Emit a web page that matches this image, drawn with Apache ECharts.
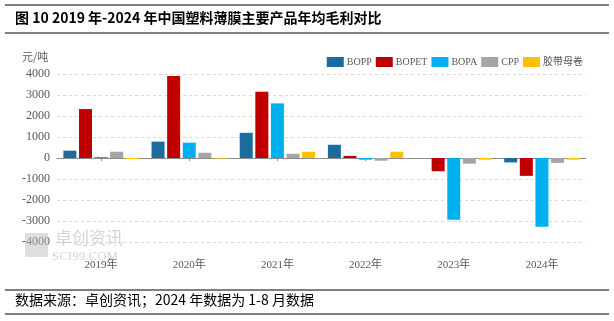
<!DOCTYPE html>
<html>
<head>
<meta charset="utf-8">
<script src="https://cdn.jsdelivr.net/npm/echarts@6/dist/echarts.min.js"></script>
<style>
html,body{margin:0;padding:0;background:#fff;}
#c{width:614px;height:321px;}
</style>
</head>
<body>
<div id="c"></div>
<script>
var categories = ['2019年','2020年','2021年','2022年','2023年','2024年'];
var seriesNames = ['BOPP','BOPET','BOPA','CPP','胶带母卷'];
var bopp   = [350, 780, 1200, 630, 0, -210];
var bopet  = [2330, 3900, 3150, 100, -630, -850];
var bopa   = [50, 730, 2600, -80, -2940, -3270];
var cpp    = [300, 250, 200, -130, -270, -230];
var tape   = [-50, -30, 300, 300, -80, -80];
var colors = ['#1D6A9E', '#C00000', '#00B0F0', '#A5A5A5', '#FFC000'];
var titleText = '图 10 2019 年-2024 年中国塑料薄膜主要产品年均毛利对比';
var sourceText = '数据来源：卓创资讯；2024 年数据为 1-8 月数据';
var unitText = '元/吨';

var chart = echarts.init(document.getElementById('c'), null, {renderer: 'canvas'});
var dataSets = [bopp, bopet, bopa, cpp, tape];
var serif = "'Liberation Serif', 'Noto Sans CJK SC', serif";

var series = seriesNames.map(function (n, i) {
  return {
    name: n,
    type: 'bar',
    xAxisIndex: 0,
    data: dataSets[i],
    barWidth: 13,
    barGap: '20%',
    itemStyle: {color: colors[i]},
    z: 3
  };
});

chart.setOption({
  animation: false,
  backgroundColor: '#fff',
  color: colors,
  grid: {left: 57, right: 28, top: 74, bottom: 79},
  legend: {
    right: 26, top: 52,
    itemWidth: 17, itemHeight: 10, itemGap: 4,
    icon: 'rect',
    textStyle: {fontFamily: serif, fontSize: 10, color: '#595959', padding: [0, 0, 0, -2]},
    data: seriesNames
  },
  xAxis: [{
    type: 'category',
    data: categories,
    position: 'bottom',
    axisLine: {show: false, onZero: false},
    axisTick: {show: false},
    axisLabel: {fontFamily: serif, fontSize: 11, color: '#595959', margin: 18}
  }, {
    type: 'category',
    data: categories,
    position: 'bottom',
    axisLine: {show: true, onZero: true, lineStyle: {color: '#8c8c8c', width: 1}},
    axisTick: {show: true, alignWithLabel: true, length: 3, lineStyle: {color: '#8c8c8c'}},
    axisLabel: {show: false}
  }],
  yAxis: {
    type: 'value',
    min: -4000, max: 4000, interval: 1000,
    axisLine: {show: false},
    axisTick: {show: false},
    axisLabel: {fontFamily: serif, fontSize: 12, color: '#595959', margin: 7,
      formatter: function (v) { return String(v); }},
    splitLine: {lineStyle: {type: [3, 3], color: '#d9d9d9'}}
  },
  graphic: [
    {type: 'line', shape: {x1: 5, y1: 5, x2: 609, y2: 5}, style: {stroke: '#000', lineWidth: 1}},
    {type: 'line', shape: {x1: 5, y1: 33, x2: 609, y2: 33}, style: {stroke: '#000', lineWidth: 1}},
    {type: 'text', left: 15, top: 11, style: {text: titleText, font: "bold 14px 'Noto Sans CJK SC', sans-serif", fill: '#000'}},
    {type: 'text', left: 22, top: 51, style: {text: unitText, font: "11px 'Noto Sans CJK SC', sans-serif", fill: '#595959'}},
    {type: 'rect', shape: {x: 25, y: 233, width: 23, height: 24}, style: {fill: 'rgba(190,190,190,0.5)'}, z: 1},
    {type: 'text', left: 55, top: 229, style: {text: '卓创资讯', font: "17px 'Noto Sans CJK SC', sans-serif", fill: 'rgba(190,190,190,0.65)'}, z: 1},
    {type: 'text', left: 52, top: 250, style: {text: 'SCI99.COM', font: "13px 'Liberation Serif', serif", fill: 'rgba(190,190,190,0.65)'}, z: 1},
    {type: 'line', shape: {x1: 5, y1: 290, x2: 609, y2: 290}, style: {stroke: '#000', lineWidth: 1}},
    {type: 'line', shape: {x1: 5, y1: 314, x2: 609, y2: 314}, style: {stroke: '#000', lineWidth: 1}},
    {type: 'text', left: 15, top: 293, style: {text: sourceText, font: "14px 'Noto Sans CJK SC', sans-serif", fill: '#000'}}
  ],
  series: series
});
</script>
</body>
</html>
